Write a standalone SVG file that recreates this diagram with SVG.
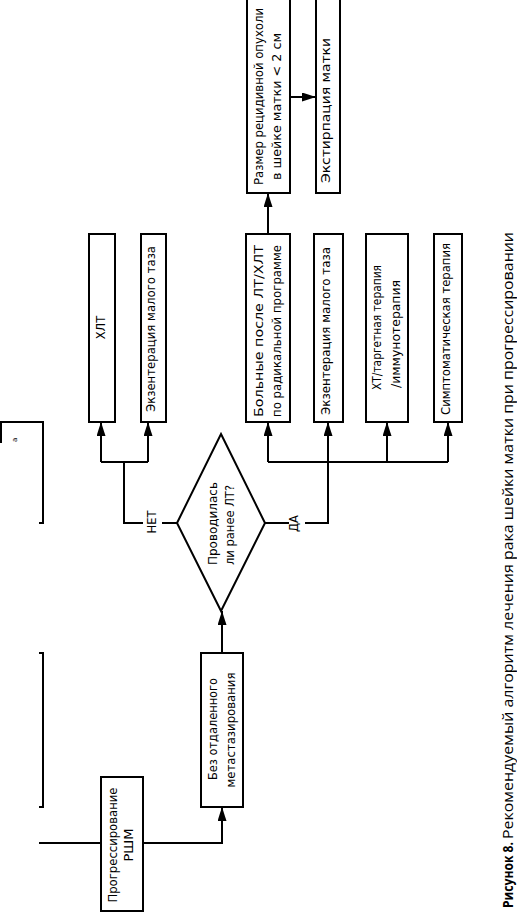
<svg xmlns="http://www.w3.org/2000/svg" width="517" height="913" viewBox="0 0 517 913">
<style>
.box{fill:#fff;stroke:#000;stroke-width:2}
.ln{fill:none;stroke:#000;stroke-width:2}
.t{font-family:"DejaVu Sans","Liberation Sans",sans-serif;font-size:11.5px;fill:#000;text-anchor:middle}
.s{text-anchor:start}
.cap{font-family:"Open Sans","Liberation Sans",sans-serif;font-size:15px;fill:#000}
</style>
<defs>
<marker id="ah" viewBox="0 0 14 9" refX="14" refY="4.5" markerWidth="14" markerHeight="9" markerUnits="userSpaceOnUse" orient="auto">
<path d="M0,0 L14,4.5 L0,9 Z" fill="#000"/>
</marker>
</defs>
<rect width="517" height="913" fill="#fff"/>

<g id="marks">
<path class="ln" d="M1,443 V422 H43 V523 H39"/>
<path class="ln" d="M39,653 H43 V807 H39"/>
<text transform="translate(17,442) rotate(-90)" style="font-family:'DejaVu Sans',sans-serif;font-size:7px">а</text>
</g>

<g id="connectors">
<path class="ln" d="M39,843 H101"/>
<path class="ln" d="M143,843 H222 V807" marker-end="url(#ah)"/>
<path class="ln" d="M222,653 V611" marker-end="url(#ah)"/>
<path class="ln" d="M177,523 H162"/>
<path class="ln" d="M143,523 H124 V462"/>
<path class="ln" d="M101,462 H148"/>
<path class="ln" d="M101,462 V422" marker-end="url(#ah)"/>
<path class="ln" d="M148,462 V422" marker-end="url(#ah)"/>
<path class="ln" d="M265,523 H289"/>
<path class="ln" d="M305,523 H328 V462"/>
<path class="ln" d="M268,462 H448"/>
<path class="ln" d="M268,462 V422" marker-end="url(#ah)"/>
<path class="ln" d="M328,462 V422" marker-end="url(#ah)"/>
<path class="ln" d="M387,462 V422" marker-end="url(#ah)"/>
<path class="ln" d="M448,462 V422" marker-end="url(#ah)"/>
<path class="ln" d="M268,234 V193" marker-end="url(#ah)"/>
<path class="ln" d="M290,97 H316" marker-end="url(#ah)"/>
<text class="t" transform="translate(156,522) rotate(-90)">НЕТ</text>
<text class="t" transform="translate(298,523.5) rotate(-90)">ДА</text>
</g>

<g id="progress">
<rect class="box" x="101" y="777" width="42" height="134"/>
<text class="t" transform="translate(117,845) rotate(-90)" textLength="115" lengthAdjust="spacingAndGlyphs">Прогрессирование</text>
<text class="t" transform="translate(133,845) rotate(-90)" textLength="33" lengthAdjust="spacingAndGlyphs">РШМ</text>
</g>

<g id="nometa">
<rect class="box" x="201" y="653" width="42" height="154"/>
<text class="t" transform="translate(217,729) rotate(-90)" textLength="102" lengthAdjust="spacingAndGlyphs">Без отдаленного</text>
<text class="t" transform="translate(235,730) rotate(-90)" textLength="115" lengthAdjust="spacingAndGlyphs">метастазирования</text>
</g>

<g id="decision">
<polygon class="box" points="221,434 265,523 221,611 177,523"/>
<text class="t" transform="translate(217,523.5) rotate(-90)" textLength="83" lengthAdjust="spacingAndGlyphs">Проводилась</text>
<text class="t" transform="translate(234,525) rotate(-90)" textLength="80" lengthAdjust="spacingAndGlyphs">ли ранее ЛТ?</text>
</g>

<g id="hlt">
<rect class="box" x="89" y="234" width="26" height="188"/>
<text class="t" transform="translate(105,327.5) rotate(-90)">ХЛТ</text>
</g>

<g id="exent1">
<rect class="box" x="141" y="234" width="25" height="188"/>
<text class="t" transform="translate(155,329) rotate(-90)" textLength="166" lengthAdjust="spacingAndGlyphs">Экзентерация малого таза</text>
</g>

<g id="patients">
<rect class="box" x="246" y="234" width="44" height="188"/>
<text class="t" transform="translate(263,331) rotate(-90)" textLength="172" lengthAdjust="spacingAndGlyphs">Больные после ЛТ/ХЛТ</text>
<text class="t" transform="translate(281,331) rotate(-90)" textLength="172" lengthAdjust="spacingAndGlyphs">по радикальной программе</text>
</g>

<g id="exent2">
<rect class="box" x="314" y="234" width="29" height="188"/>
<text class="t" transform="translate(330,331) rotate(-90)" textLength="168" lengthAdjust="spacingAndGlyphs">Экзентерация малого таза</text>
</g>

<g id="chemo">
<rect class="box" x="366" y="234" width="42" height="188"/>
<text class="t s" transform="translate(381,390) rotate(-90)" textLength="125" lengthAdjust="spacingAndGlyphs">ХТ/таргетная терапия</text>
<text class="t s" transform="translate(400,388) rotate(-90)" textLength="108" lengthAdjust="spacingAndGlyphs">/иммунотерапия</text>
</g>

<g id="sympt">
<rect class="box" x="434" y="234" width="28" height="188"/>
<text class="t" transform="translate(450,329) rotate(-90)" textLength="172" lengthAdjust="spacingAndGlyphs">Симптоматическая терапия</text>
</g>

<g id="size">
<rect class="box" x="247" y="-1" width="43" height="194"/>
<text class="t" transform="translate(263,96.5) rotate(-90)" textLength="177" lengthAdjust="spacingAndGlyphs">Размер рецидивной опухоли</text>
<text class="t" transform="translate(281,106.5) rotate(-90)" textLength="147" lengthAdjust="spacingAndGlyphs">в шейке матки &lt; 2 см</text>
</g>

<g id="hyst">
<rect class="box" x="316" y="-1" width="24" height="194"/>
<text class="t" transform="translate(330,110.5) rotate(-90)" textLength="145" lengthAdjust="spacingAndGlyphs">Экстирпация матки</text>
</g>

<g id="caption">
<text class="cap" transform="translate(512.5,908) rotate(-90)" font-weight="bold" textLength="66" lengthAdjust="spacingAndGlyphs">Рисунок 8.</text>
<text class="cap" transform="translate(512.5,839) rotate(-90)" textLength="607" lengthAdjust="spacingAndGlyphs">Рекомендуемый алгоритм лечения рака шейки матки при прогрессировании</text>
</g>
</svg>
